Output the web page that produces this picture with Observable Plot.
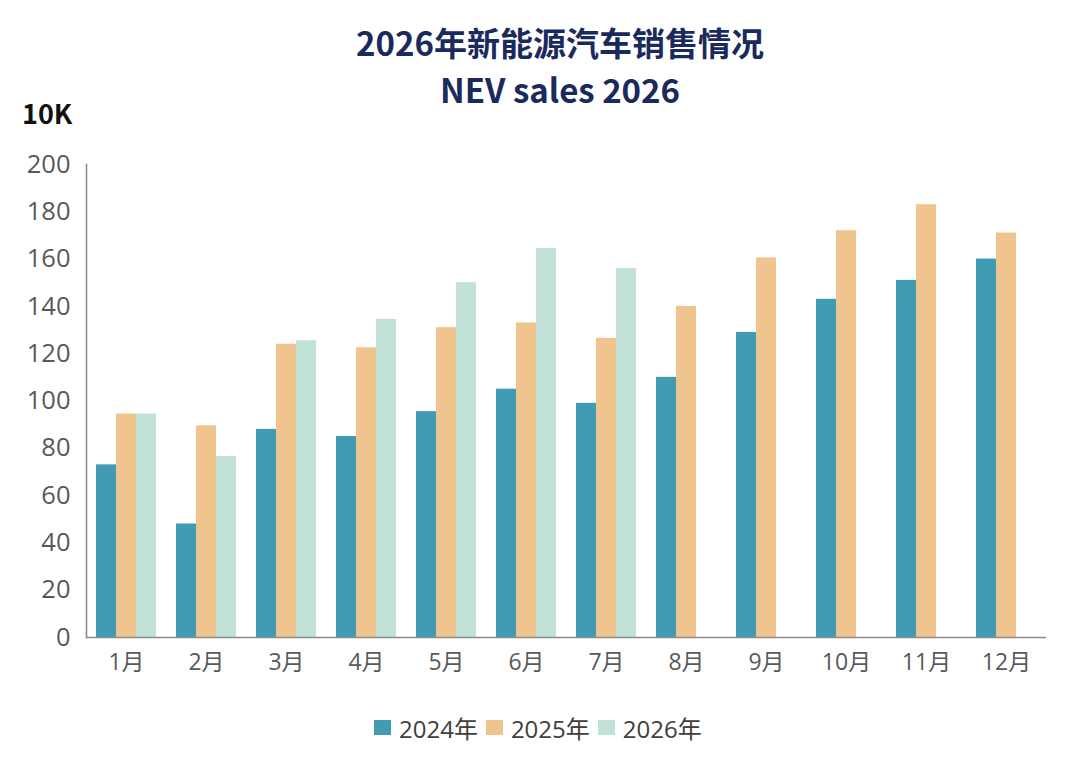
<!DOCTYPE html>
<html>
<head>
<meta charset="utf-8">
<script src="https://cdn.jsdelivr.net/npm/d3@7"></script>
<script src="https://cdn.jsdelivr.net/npm/@observablehq/plot@0.6"></script>
<style>
  html, body { margin: 0; padding: 0; background: #ffffff; }
  #wrap { position: relative; width: 1080px; height: 769px; overflow: hidden;
          font-family: "Noto Sans CJK SC", "Noto Sans", sans-serif; }
  #chart { position: absolute; left: 0; top: 0; }
  .abs { position: absolute; white-space: nowrap; }
  .title { left: 560px; transform: translateX(-50%); color: #1b2a5c; font-weight: 700; font-size: 33px; height: 40px; line-height: 40px; }
  #unit { left: 22px; top: 97px; height: 32px; line-height: 32px; font-size: 27px; font-weight: 700; color: #111; }
  #legend { left: 374px; top: 710px; height: 34px; display: flex; align-items: center; font-size: 24px; color: #404040;
            font-family: "Open Sans", "Noto Sans CJK SC", sans-serif; }
  .sw { display: inline-block; width: 17px; height: 15px; margin-right: 8px; }
  .item { display: flex; align-items: center; margin-right: 8px; }
</style>
</head>
<body>
<div id="wrap">
  <div id="chart"></div>
  <div class="abs title" id="t1" style="top:22px">2026年新能源汽车销售情况</div>
  <div class="abs title" id="t2" style="top:69px">NEV sales 2026</div>
  <div class="abs" id="unit">10K</div>
  <div class="abs" id="legend"></div>
</div>
<script>
const months = ["1月","2月","3月","4月","5月","6月","7月","8月","9月","10月","11月","12月"];
const years = ["2024年","2025年","2026年"];
const sales2024 = [73, 48, 88, 85, 95.5, 105, 99, 110, 129, 143, 151, 160];
const sales2025 = [94.5, 89.5, 124, 122.5, 131, 133, 126.5, 140, 160.5, 172, 183, 171];
const sales2026 = [94.5, 76.5, 125.5, 134.5, 150, 164.5, 156];
const colors = ["#419cb3", "#f0c48f", "#c2e1d7"];
const yTicks = [0, 20, 40, 60, 80, 100, 120, 140, 160, 180, 200];

const series = [sales2024, sales2025, sales2026];
const rows = [];
series.forEach((vals, si) => {
  vals.forEach((v, mi) => {
    if (v != null) rows.push({month: months[mi], year: years[si], value: v});
  });
});

const axisColor = "#8c8c8c";
const chart = Plot.plot({
  width: 1080,
  height: 769,
  marginTop: 164,
  marginBottom: 132,
  marginLeft: 83,
  marginRight: 32,
  style: {fontFamily: "'Open Sans', 'Noto Sans CJK SC', sans-serif", background: "transparent"},
  fx: {domain: months, paddingInner: 0, paddingOuter: 0, label: null},
  x: {domain: years, paddingInner: 0, paddingOuter: 0.5, axis: null},
  y: {domain: [0, 200], axis: null},
  color: {domain: years, range: colors},
  marks: [
    Plot.barY(rows, {fx: "month", x: "year", y: "value", fill: "year"}),
    Plot.ruleY([0], {stroke: axisColor, strokeWidth: 1.6}),
    Plot.frame({anchor: "left", facetAnchor: "left", stroke: axisColor, strokeWidth: 1.6}),
    Plot.axisY({ticks: yTicks, tickSize: 0, tickPadding: 16, fontSize: 25.5, fill: "#595959", label: null}),
    Plot.axisFx({anchor: "bottom", tickSize: 0, tickPadding: 16, fontSize: 23, fill: "#595959", label: null})
  ]
});
document.getElementById("chart").appendChild(chart);

const legend = document.getElementById("legend");
years.forEach((y, i) => {
  const item = document.createElement("div");
  item.className = "item";
  const sw = document.createElement("span");
  sw.className = "sw";
  sw.style.background = colors[i];
  const lab = document.createElement("span");
  lab.textContent = y;
  item.appendChild(sw);
  item.appendChild(lab);
  legend.appendChild(item);
});
</script>
</body>
</html>
